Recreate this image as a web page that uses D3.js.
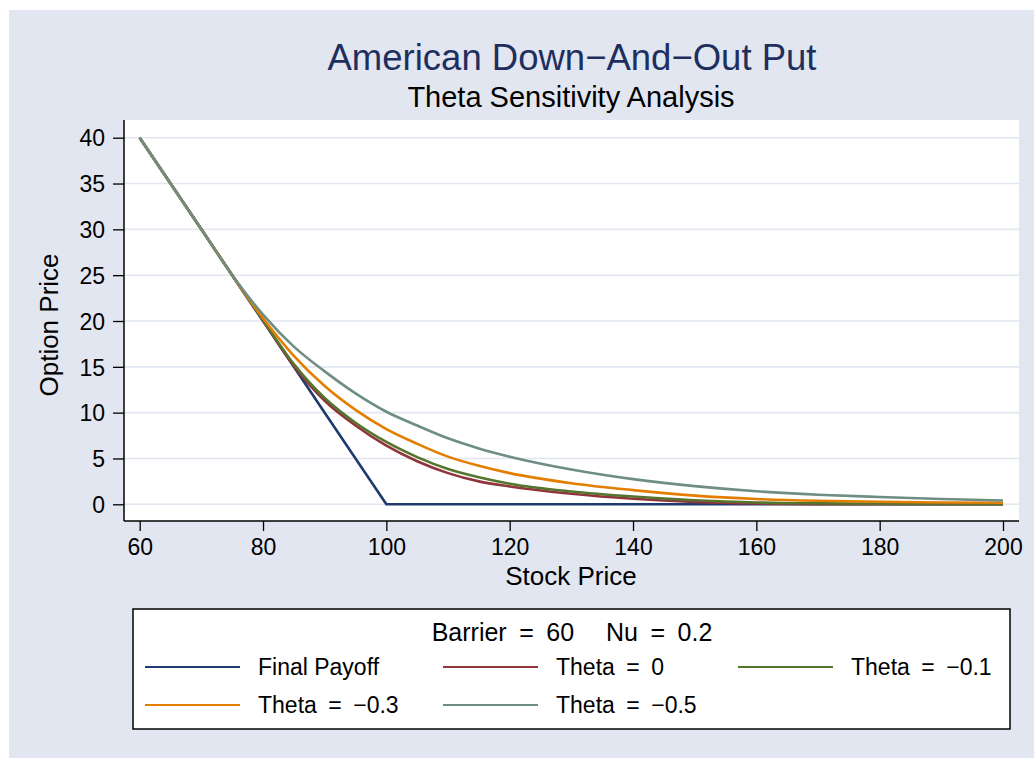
<!DOCTYPE html>
<html><head><meta charset="utf-8">
<script src="https://cdn.jsdelivr.net/npm/d3@7"></script>
<style>
body{margin:0;background:#fff}
text{font-family:"Liberation Sans",Arial,Helvetica,sans-serif;fill:#000}
</style>
</head><body>
<svg id="chart" width="1034" height="758"></svg>
<script>
// ---- data ----
const stockPrice = [60,65,70,75,80,85,90,95,100,105,110,115,120,130,140,150,160,170,180,190,200];
const finalPayoff = [40,35,30,25,20,15,10,5,0,0,0,0,0,0,0,0,0,0,0,0,0];
const theta0     = [40,35,30,25,20.05,15.1,11.3,8.6,6.4,4.7,3.4,2.5,1.95,1.15,0.6,0.25,0.08,0.02,0,0,0];
const thetaM01   = [40,35,30,25,20.1,15.3,11.6,8.9,6.8,5.15,3.85,2.95,2.25,1.4,0.85,0.45,0.2,0.1,0.06,0.05,0.05];
const thetaM03   = [40,35,30,25,20.3,16.2,12.9,10.3,8.2,6.6,5.2,4.2,3.4,2.3,1.55,0.95,0.58,0.38,0.27,0.2,0.17];
const thetaM05   = [40,35,30,25,20.7,17.2,14.5,12.1,10.1,8.6,7.2,6.1,5.2,3.8,2.75,1.98,1.42,1.05,0.8,0.58,0.42];
const legendLabels = ["Final Payoff","Theta\u2002=\u20020","Theta\u2002=\u2002\u22120.1","Theta\u2002=\u2002\u22120.3","Theta\u2002=\u2002\u22120.5"];
const seriesColors = ["#1f3a6e","#90353b","#55752f","#e37e00","#6e8e84"];
const xTicks = [60,80,100,120,140,160,180,200];
const yTicks = [0,5,10,15,20,25,30,35,40];
const titleText = "American Down\u2212And\u2212Out Put";
const subtitleText = "Theta Sensitivity Analysis";
const legendTitle = "Barrier\u2002=\u200260\u2003 Nu\u2002=\u20020.2";

const series = [finalPayoff, theta0, thetaM01, thetaM03, thetaM05];

const svg = d3.select("#chart");
const bg = "#e1e6f0";

svg.append("rect").attr("x",9).attr("y",10).attr("width",1025).attr("height",748).attr("fill",bg);

const plot = {l:124, r:1019, t:120, b:521};
svg.append("rect").attr("x",plot.l).attr("y",plot.t).attr("width",plot.r-plot.l).attr("height",plot.b-plot.t).attr("fill","#fff");

const x = d3.scaleLinear().domain([60,200]).range([139.7,1003]);
const y = d3.scaleLinear().domain([0,40]).range([504.3,137.7]);

// gridlines
svg.append("g").selectAll("line").data(yTicks).join("line")
  .attr("x1",plot.l).attr("x2",plot.r)
  .attr("y1",d=>y(d)).attr("y2",d=>y(d))
  .attr("stroke",bg).attr("stroke-width",1.6);

// axes
const yAxis = d3.axisLeft(y).tickValues(yTicks).tickSize(11).tickPadding(8);
const gy = svg.append("g").attr("transform",`translate(${plot.l},0)`).call(yAxis);
gy.select(".domain").remove();
gy.selectAll(".tick line").attr("stroke","#000").attr("stroke-width",1.3);
gy.selectAll(".tick text").style("font-size","23px").attr("dy","0.36em");
svg.append("line").attr("x1",plot.l).attr("x2",plot.l).attr("y1",plot.t).attr("y2",plot.b).attr("stroke","#000").attr("stroke-width",1.5);

const xAxis = d3.axisBottom(x).tickValues(xTicks).tickSize(10).tickPadding(8);
const gx = svg.append("g").attr("transform",`translate(0,${plot.b})`).call(xAxis);
gx.select(".domain").remove();
gx.selectAll(".tick line").attr("stroke","#000").attr("stroke-width",1.3);
gx.selectAll(".tick text").style("font-size","23px");
svg.append("line").attr("x1",plot.l).attr("x2",plot.r).attr("y1",plot.b).attr("y2",plot.b).attr("stroke","#000").attr("stroke-width",1.5);

// lines
const linePay = d3.line().x((d,i)=>x(stockPrice[i])).y(d=>y(d));
const lineSmooth = d3.line().x((d,i)=>x(stockPrice[i])).y(d=>y(d)).curve(d3.curveMonotoneX);
series.forEach((s,k)=>{
  svg.append("path").datum(s)
    .attr("d", k===0 ? linePay : lineSmooth)
    .attr("fill","none").attr("stroke",seriesColors[k]).attr("stroke-width",2.6)
    .attr("stroke-linejoin","round");
});

// titles
svg.append("text").attr("x",572).attr("y",70).attr("text-anchor","middle")
  .style("font-size","36.5px").style("fill","#1e2f5e").text(titleText);
svg.append("text").attr("x",571).attr("y",107).attr("text-anchor","middle")
  .style("font-size","29px").text(subtitleText);

svg.append("text").attr("x",571).attr("y",585).attr("text-anchor","middle")
  .style("font-size","26px").text("Stock Price");
svg.append("text").attr("transform","translate(58,325) rotate(-90)").attr("text-anchor","middle")
  .style("font-size","26px").text("Option Price");

// legend
svg.append("rect").attr("x",133).attr("y",609).attr("width",877).attr("height",120)
  .attr("fill","#fff").attr("stroke","#000").attr("stroke-width",1.5);
svg.append("text").attr("x",572).attr("y",641).attr("text-anchor","middle")
  .style("font-size","25px").text(legendTitle);
const colX = [145,443,738];
const rowY = [667,705];
legendLabels.forEach((lab,i)=>{
  const cx = colX[i%3], cy = rowY[Math.floor(i/3)];
  svg.append("line").attr("x1",cx).attr("x2",cx+95).attr("y1",cy).attr("y2",cy)
    .attr("stroke",seriesColors[i]).attr("stroke-width",2);
  svg.append("text").attr("x",cx+113).attr("y",cy).attr("dy","0.36em")
    .style("font-size","23px").text(lab);
});
</script>
</body></html>
